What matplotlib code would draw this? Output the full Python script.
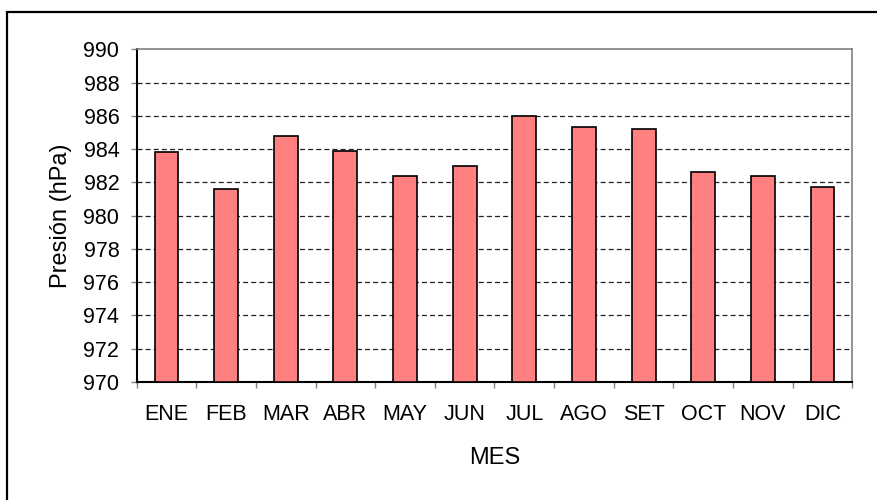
import matplotlib
matplotlib.use("Agg")
import matplotlib.pyplot as plt
from matplotlib.patches import Rectangle
import numpy as np

months = ["ENE", "FEB", "MAR", "ABR", "MAY", "JUN", "JUL", "AGO", "SET", "OCT", "NOV", "DIC"]
pressure = [983.8, 981.6, 984.8, 983.9, 982.4, 983.0, 986.0, 985.3, 985.2, 982.6, 982.4, 981.7]
yticks = [970, 972, 974, 976, 978, 980, 982, 984, 986, 988, 990]

plt.rcParams['font.family'] = ['Liberation Sans', 'DejaVu Sans']

W, H = 878, 500
fig = plt.figure(figsize=(W / 100, H / 100), dpi=100)
ax = fig.add_axes([136.7 / W, 1 - 382 / H, (852.3 - 136.7) / W, (382 - 49.3) / H])

x = np.arange(len(months))
base = yticks[0]
ax.bar(x, np.array(pressure) - base, bottom=base, width=0.4, color="#FF8080",
       edgecolor="black", linewidth=1.2, zorder=3)

ax.set_xlim(-0.5, len(months) - 0.5)
ax.set_ylim(yticks[0], yticks[-1])
ax.set_yticks(yticks)
ax.set_yticklabels([str(v) for v in yticks], fontsize=15.5)
ax.set_xticks(x)
ax.set_xticklabels(months, fontsize=15.5)
ax.tick_params(axis="x", which="major", length=0, pad=15.5)
ax.set_xticks(np.arange(-0.5, len(months)), minor=True)
ax.tick_params(axis="x", which="minor", length=4.5, width=1, color="#808080")
ax.tick_params(axis="y", length=4.5, width=1, color="#808080", pad=8)

for v in yticks[1:-1]:
    ax.axhline(v, color="#222222", linestyle=(0, (4, 2.5)), linewidth=0.9, zorder=1)

ax.spines["left"].set_color("black")
ax.spines["left"].set_linewidth(1.5)
ax.spines["bottom"].set_color("black")
ax.spines["bottom"].set_linewidth(1.5)
ax.spines["top"].set_color("#808080")
ax.spines["top"].set_linewidth(1.2)
ax.spines["right"].set_color("#808080")
ax.spines["right"].set_linewidth(1.2)

ax.set_ylabel("Presión (hPa)", fontsize=17, labelpad=8)
ax.set_xlabel("MES", fontsize=17, labelpad=16)

fig.patches.append(Rectangle((7.5 / W, -0.1), 1.2, 1 - 12 / H + 0.1,
                             transform=fig.transFigure, fill=False,
                             edgecolor="black", linewidth=1.6))

fig.savefig("out.png", dpi=100, facecolor="white")
